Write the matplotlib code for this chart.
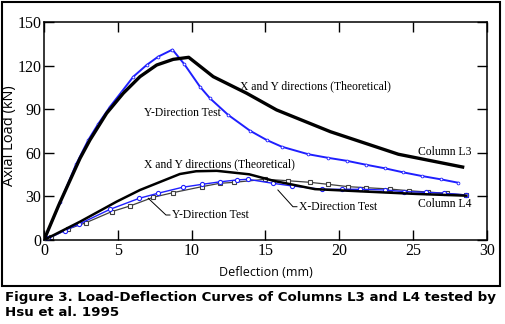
import matplotlib
matplotlib.use("Agg")
import matplotlib.pyplot as plt
from matplotlib.patches import Rectangle

# Column L3 - test, kierunek Y (niebieska)
l3_test_x = [0, 1.1, 2.17, 3.0, 3.68, 4.47, 5.26, 6.05, 6.95, 7.74, 8.7, 9.5, 10.56, 11.24,
             12.48, 13.95, 15.08, 16.1, 17.9, 19.2, 20.5, 21.8, 23.1, 24.3, 25.6, 26.9, 28.05]
l3_test_y = [0, 26, 52, 68.8, 80, 91.7, 102, 112.4, 120.4, 126.2, 131, 121, 105.5, 97.5,
             86, 75.2, 68.8, 64.2, 59, 56.6, 54.5, 51.8, 49.3, 46.6, 44, 41.7, 39.4]

# Column L3 - teoria
l3_theo_x = [0, 1.0, 2.44, 3.11, 4.24, 5.37, 6.5, 7.63, 8.75, 9.8, 11.46, 13.72, 15.75, 19.4, 24.0, 28.35]
l3_theo_y = [0, 24, 56.2, 68.8, 87.2, 101, 112.4, 120.4, 124.3, 125.7, 112.4, 101, 89.5, 74.5, 59, 50.2]

# Column L4 - teoria
l4_theo_x = [0, 2.44, 4.92, 6.5, 9.2, 10.3, 11.7, 13.9, 15.6, 18.35, 21.8, 25.2, 28.6]
l4_theo_y = [0, 12.6, 26.4, 34.4, 45.4, 47.3, 47.6, 45.2, 40.6, 35, 33.3, 31.7, 30.5]

# Column L4 - test, kierunek Y
l4_y_x = [0, 0.3, 1.4, 2.39, 4.47, 6.45, 7.7, 9.39, 10.7, 11.9, 13.05, 13.8, 15.5, 16.8,
          18.8, 20.15, 21.4, 23.1, 24.4, 25.9, 27.1, 28.6]
l4_y_y = [0, 1.2, 6.5, 11, 21.1, 28.7, 32.1, 36.3, 38.3, 40, 41.3, 41.8, 39, 37.2,
          34.9, 34.9, 34.9, 34.4, 33.3, 32.8, 32.1, 31]

# Column L4 - test, kierunek X
l4_x_x = [0, 0.5, 1.65, 2.84, 4.58, 5.82, 7.4, 8.75, 10.7, 11.9, 12.9, 15.0, 16.5, 18.0,
          19.25, 20.6, 21.8, 23.4, 24.7, 26.0, 27.3, 28.6]
l4_x_y = [0, 2, 7.6, 11.9, 19.5, 23.4, 29.4, 32.6, 36.7, 39, 39.7, 41.8, 40.8, 39.7,
          38.3, 36.7, 36, 35.1, 33.9, 33, 32.1, 31]

x_ticks = [0, 5, 10, 15, 20, 25, 30]
y_ticks = [0, 30, 60, 90, 120, 150]

blue = "#1f1fff"
serif = "Liberation Serif"

fig = plt.figure(figsize=(5.06, 3.24), dpi=100)
ax = fig.add_axes([44 / 506, 84 / 324, 443 / 506, 218 / 324])

ax.plot(l4_x_x, l4_x_y, color="#404040", lw=0.9, marker="s", ms=3, mfc="white", mew=0.8)
ax.plot(l4_y_x, l4_y_y, color=blue, lw=1.0, marker="o", ms=3, mfc="white", mew=0.8)
ax.plot(l4_theo_x, l4_theo_y, color="black", lw=1.8)
ax.plot(l3_test_x, l3_test_y, color=blue, lw=1.4, marker="o", ms=2, mfc="white", mew=0.6)
ax.plot(l3_theo_x, l3_theo_y, color="black", lw=2.4)

ax.set_xlim(0, 30)
ax.set_ylim(0, 150)
ax.set_xticks(x_ticks)
ax.set_yticks(y_ticks)
ax.tick_params(direction="in", length=7, width=1, top=True, right=True,
               labeltop=False, labelright=False, labelsize=11.5, pad=2)
for lab in ax.get_xticklabels() + ax.get_yticklabels():
    lab.set_family(serif)
for s in ax.spines.values():
    s.set_linewidth(1.1)

ax.set_xlabel("Deflection (mm)", family="Open Sans", fontsize=9, labelpad=5)
ax.set_ylabel("Axial Load (kN)", family="Open Sans", fontsize=10.5)
ax.yaxis.set_label_coords(-0.062, 0.479)

# opisy krzywych
fs = 8.4
ax.text(13.27, 106, "X and Y directions (Theoretical)", family=serif, fontsize=fs, va="center")
ax.text(6.77, 87.4, "Y-Direction Test", family=serif, fontsize=fs, va="center")
ax.text(25.3, 60.6, "Column L3", family=serif, fontsize=fs, va="center")
ax.text(6.77, 52.3, "X and Y directions (Theoretical)", family=serif, fontsize=fs, va="center")
ax.text(25.3, 24.8, "Column L4", family=serif, fontsize=fs, va="center")
ax.text(17.3, 22.9, "X-Direction Test", family=serif, fontsize=fs, va="center")
ax.text(8.7, 17.2, "Y-Direction Test", family=serif, fontsize=fs, va="center")
ax.plot([15.84, 16.86, 17.13], [34.4, 22.9, 22.9], color="black", lw=0.7)
ax.plot([7.06, 8.26, 8.53], [28.7, 17.2, 17.2], color="black", lw=0.7)

# ramka i podpis
fig.patches.append(Rectangle((2 / 506, 38 / 324), 498 / 506, 284 / 324, transform=fig.transFigure,
                             fill=False, edgecolor="black", lw=1.5))
fig.text(5 / 506, 1 - 297 / 324, "Figure 3. Load-Deflection Curves of Columns L3 and L4 tested by",
         family="DejaVu Sans", fontweight="bold", fontsize=9.65, va="center")
fig.text(5 / 506, 1 - 313 / 324, "Hsu et al. 1995",
         family="DejaVu Sans", fontweight="bold", fontsize=9.65, va="center")

fig.savefig("out.png", dpi=100)
